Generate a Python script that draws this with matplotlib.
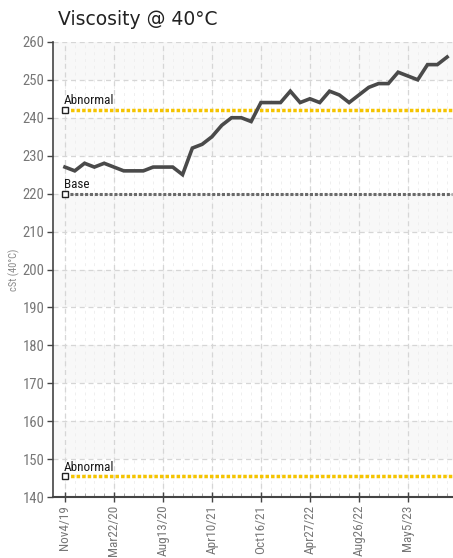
import matplotlib.pyplot as plt
import numpy as np

# viscosity samples (cSt @ 40C), one per sample date
visc = [227, 226, 228, 227, 228, 227, 226, 226, 226, 227,
        227, 227, 225, 232, 233, 235, 238, 240, 240, 239,
        244, 244, 244, 247, 244, 245, 244, 247, 246, 244,
        246, 248, 249, 249, 252, 251, 250, 254, 254, 256]
tick_labels = ['Nov4/19', 'Mar22/20', 'Aug13/20', 'Apr10/21',
               'Oct16/21', 'Apr27/22', 'Aug26/22', 'May5/23']
tick_idx = [0, 5, 10, 15, 20, 25, 30, 35]
abnormal_hi = 242
base = 220
abnormal_lo = 145.5

narrow = ['Liberation Sans Narrow', 'DejaVu Sans Condensed', 'Roboto Condensed', 'DejaVu Sans']
x = np.arange(len(visc))

fig = plt.figure(figsize=(4.53, 5.58), dpi=100)
ax = fig.add_axes([0.117, 0.109, 0.883, 0.816])

# light background bands
for lo in range(140, 260, 20):
    ax.axhspan(lo + 10, lo + 20, color='#f8f8f8', zorder=0, lw=0)

# minor vertical grid, one per sample
for xi in x:
    ax.axvline(xi, color='#efefef', lw=0.7, ls=(0, (3, 4)), zorder=0.5)
for xi in tick_idx:
    ax.axvline(xi, color='#d6d6d6', lw=0.9, ls=(0, (4, 3)), zorder=0.6)
for yv in range(150, 261, 10):
    ax.axhline(yv, color='#d6d6d6', lw=0.9, ls=(0, (4, 3)), zorder=0.6)

# limit lines
xr = [0, 39.5]
ax.plot(xr, [abnormal_hi] * 2, color='#f5c400', lw=2.5, ls=(0, (1, 0.6)), zorder=2)
ax.plot(xr, [base] * 2, color='#6a6a6a', lw=2.2, ls=(0, (1, 0.6)), zorder=2)
ax.plot(xr, [abnormal_lo] * 2, color='#f5c400', lw=2.5, ls=(0, (1, 0.6)), zorder=2)
for yv, lab in [(abnormal_hi, 'Abnormal'), (base, 'Base'), (abnormal_lo, 'Abnormal')]:
    ax.plot([0], [yv], marker='s', ms=4.5, mfc='white', mec='#222222', mew=1, zorder=4)
    ax.text(-0.1, yv + 0.7, lab, fontsize=9.5, color='#1a1a1a', family=narrow,
            ha='left', va='bottom', zorder=4)

# data line
ax.plot(x, visc, color='#4a4a4a', lw=2.6, solid_joinstyle='miter', zorder=3)

ax.set_xlim(-1.22, 39.6)
ax.set_ylim(140, 260)
ax.set_yticks(range(140, 261, 10))
ax.set_xticks(tick_idx)
ax.set_xticklabels(tick_labels, rotation=90, fontsize=9.5, color='#777777', family=narrow)
ax.set_xticks(x, minor=True)
for t in ax.get_yticklabels():
    t.set_fontsize(10.5)
    t.set_color('#777777')
    t.set_family(narrow)

ax.tick_params(axis='y', direction='out', length=4, width=1, color='#444444', pad=2)
ax.tick_params(axis='x', which='major', direction='inout', length=7, width=1, color='#444444', pad=2)
ax.tick_params(axis='x', which='minor', direction='in', length=3, width=0.6, color='#999999')

for s in ['top', 'right']:
    ax.spines[s].set_visible(False)
ax.spines['left'].set_color('#444444')
ax.spines['bottom'].set_color('#444444')
ax.spines['left'].set_linewidth(1.2)
ax.spines['bottom'].set_linewidth(1.5)

ax.set_ylabel('cSt (40°C)', fontsize=7.5, color='#888888', family=narrow, labelpad=2)
fig.text(0.128, 0.965, 'Viscosity @ 40°C', fontsize=13.5, color='#222222', ha='left', va='center')

fig.savefig('out.png', dpi=100)
